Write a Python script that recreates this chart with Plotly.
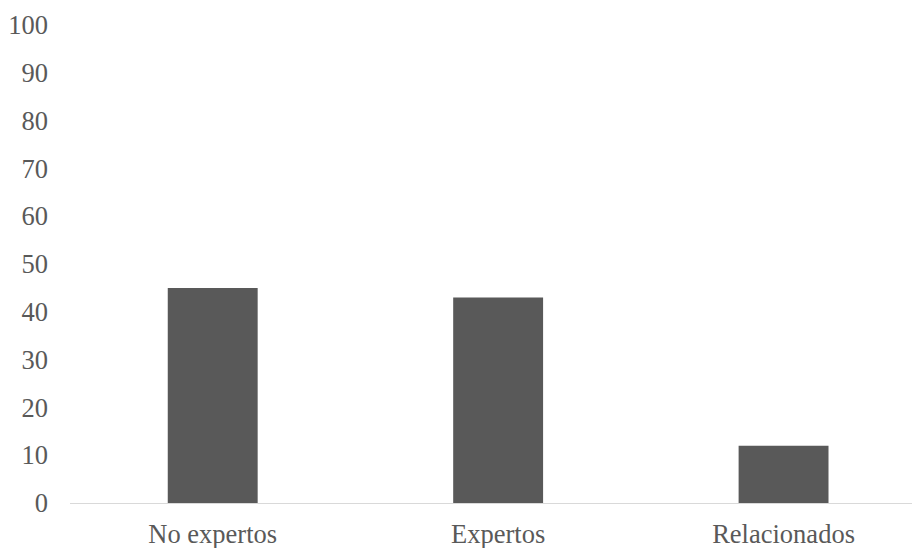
import plotly.graph_objects as go

categories = ["No expertos", "Expertos", "Relacionados"]
values = [45, 43, 12]
y_ticks = list(range(0, 101, 10))

fig = go.Figure(go.Bar(x=categories, y=values, marker=dict(color="#595959", line=dict(width=0))))

font = dict(family="Liberation Serif, Times New Roman, serif", size=26.5, color="#595959")
fig.update_layout(
    width=912, height=548,
    margin=dict(l=70, r=0, t=25, b=45),
    paper_bgcolor="white", plot_bgcolor="white",
    bargap=0.685,
    font=font,
    showlegend=False,
)
fig.update_xaxes(range=[-0.5, 2.45], showline=True, linecolor="#d9d9d9", linewidth=1,
                 showgrid=False, ticks="", tickfont=font, ticklabelstandoff=7,
                 automargin=False)
fig.update_yaxes(range=[0, 100], tickvals=y_ticks, showgrid=False, zeroline=False,
                 showline=False, ticks="", tickfont=font, ticklabelstandoff=21,
                 automargin=False)
fig.write_html("out.html")
